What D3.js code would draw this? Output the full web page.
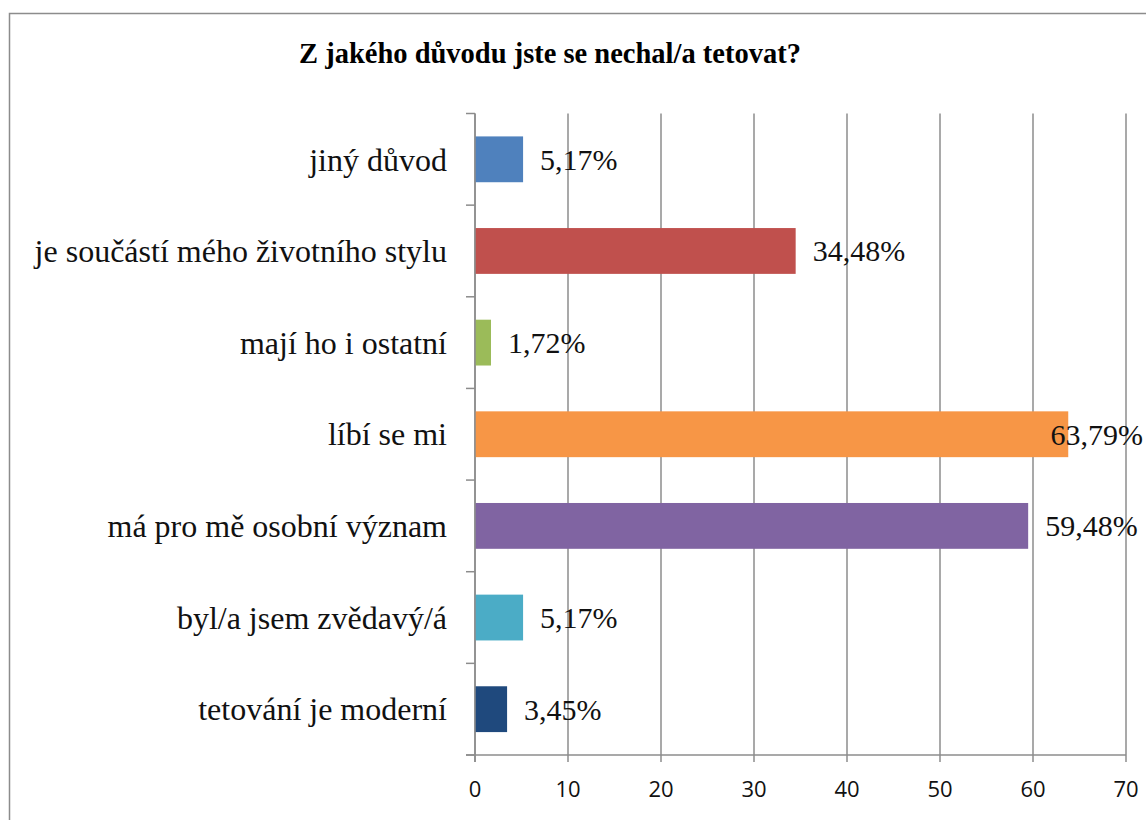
<!doctype html>
<html>
<head>
<meta charset="utf-8">
<style>
  body { margin: 0; background: #fff; }
  .grid line { stroke: #8c8c8c; stroke-width: 1.5; }
  .serif { font-family: "Liberation Serif", "Times New Roman", Times, "DejaVu Serif", serif; }
</style>
<script src="https://d3js.org/d3.v7.min.js"></script>
</head>
<body>
<svg width="1146" height="820"></svg>
<script>
// data
var categories = ["jiný důvod", "je součástí mého životního stylu", "mají ho i ostatní",
                  "líbí se mi", "má pro mě osobní význam", "byl/a jsem zvědavý/á", "tetování je moderní"];
var values = [5.17, 34.48, 1.72, 63.79, 59.48, 5.17, 3.45];
var colors = ["#4F81BD", "#C0504D", "#9BBB59", "#F79646", "#8064A2", "#4BACC6", "#1F497D"];
var xTicks = [0, 10, 20, 30, 40, 50, 60, 70];
var title = "Z jakého důvodu jste se nechal/a tetovat?";

var svg = d3.select("svg");
var plotL = 475, plotR = 1126, plotT = 113.5, plotB = 755;
var axisColor = "#8c8c8c";

// outer frame
svg.append("rect")
   .attr("x", 9.5).attr("y", 13.5)
   .attr("width", 1200).attr("height", 900)
   .attr("fill", "none").attr("stroke", "#8c8c8c").attr("stroke-width", 1.5);

svg.append("text")
   .attr("class", "serif")
   .attr("x", 550).attr("y", 63)
   .attr("text-anchor", "middle")
   .attr("font-weight", "bold")
   .attr("font-size", "28.5px")
   .text(title);

var x = d3.scaleLinear().domain([0, 70]).range([plotL, plotR]);
var y = d3.scaleBand().domain(categories).range([plotT, plotB])
          .paddingInner(0.5).paddingOuter(0.25);

// vertical gridlines
svg.append("g").attr("class", "grid")
   .selectAll("line").data(xTicks).enter().append("line")
   .attr("x1", function(d) { return x(d); })
   .attr("x2", function(d) { return x(d); })
   .attr("y1", plotT).attr("y2", plotB + 7);

// x axis line + labels
svg.append("line")
   .attr("x1", plotL - 9).attr("x2", plotR)
   .attr("y1", plotB).attr("y2", plotB)
   .attr("stroke", axisColor).attr("stroke-width", 1.5);

svg.append("g").selectAll("text").data(xTicks).enter().append("text")
   .attr("x", function(d) { return x(d); })
   .attr("y", 797)
   .attr("text-anchor", "middle")
   .attr("font-family", "'Open Sans', sans-serif")
   .attr("font-size", "22px")
   .attr("fill", "#111")
   .text(function(d) { return d; });

// y axis ticks at band boundaries
var step = y.step();
var bounds = d3.range(categories.length + 1).map(function(i) { return plotT + i * step; });
svg.append("g").selectAll("line").data(bounds).enter().append("line")
   .attr("x1", plotL - 9).attr("x2", plotL)
   .attr("y1", function(d) { return d; }).attr("y2", function(d) { return d; })
   .attr("stroke", axisColor).attr("stroke-width", 1.5);

// bars
svg.append("g").selectAll("rect").data(values).enter().append("rect")
   .attr("x", x(0))
   .attr("y", function(d, i) { return y(categories[i]); })
   .attr("width", function(d) { return x(d) - x(0); })
   .attr("height", y.bandwidth())
   .attr("fill", function(d, i) { return colors[i]; });

// y axis line
svg.append("line")
   .attr("x1", plotL).attr("x2", plotL)
   .attr("y1", plotT).attr("y2", plotB + 7)
   .attr("stroke", axisColor).attr("stroke-width", 1.5);

// category labels
svg.append("g").selectAll("text").data(categories).enter().append("text")
   .attr("class", "serif")
   .attr("x", 447)
   .attr("y", function(d) { return y(d) + y.bandwidth() / 2; })
   .attr("dy", "0.35em")
   .attr("text-anchor", "end")
   .attr("font-size", "32px")
   .attr("fill", "#111")
   .text(function(d) { return d; });

// value labels
svg.append("g").selectAll("text").data(values).enter().append("text")
   .attr("class", "serif")
   .attr("y", function(d, i) { return y(categories[i]) + y.bandwidth() / 2; })
   .attr("dy", "0.35em")
   .attr("font-size", "30px")
   .attr("fill", "#111")
   .text(function(d) { return d.toFixed(2).replace(".", ",") + "%"; })
   .attr("x", function(d) {
       var w = this.getComputedTextLength();
       return Math.min(x(d) + 17, 1143 - w);
   });
</script>
</body>
</html>
